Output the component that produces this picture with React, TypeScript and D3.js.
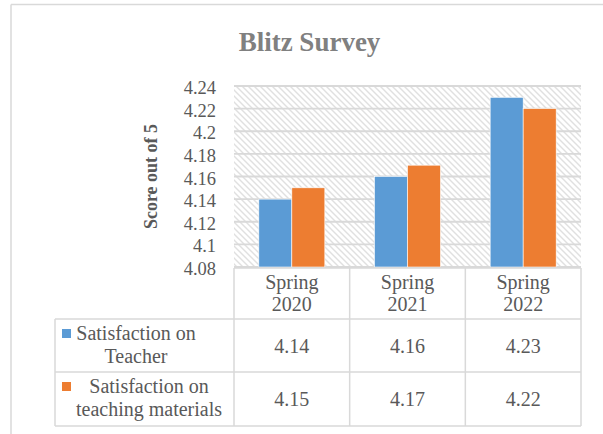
import React from "react";
import * as d3 from "d3";

// -- DATA --
const categories = ["Spring 2020", "Spring 2021", "Spring 2022"];
const seriesNames = ["Satisfaction on Teacher", "Satisfaction on teaching materials"];
const teacherScores = [4.14, 4.16, 4.23];
const materialScores = [4.15, 4.17, 4.22];
const yTicks = [4.08, 4.1, 4.12, 4.14, 4.16, 4.18, 4.2, 4.22, 4.24];
const legendLines = [["Satisfaction on", "Teacher"], ["Satisfaction on", "teaching materials"]];

const colors = ["#5B9BD5", "#ED7D31"];
const font = "'Liberation Serif', 'Times New Roman', serif";
const textGray = "#595959";
const lineGray = "#d9d9d9";

const App = () => {
  const width = 603;
  const height = 434;
  const plot = { left: 234, right: 581, top: 86, bottom: 267 };
  const table = { left: 55, headTop: 268, row1: 319, row2: 372, bottom: 426 };

  const x = d3.scaleBand().domain(categories).range([plot.left, plot.right]);
  const y = d3.scaleLinear().domain([4.08, 4.24]).range([plot.bottom, plot.top]);
  const barW = 33;
  const xSub = d3
    .scaleBand()
    .domain(seriesNames)
    .range([x.bandwidth() / 2 - barW, x.bandwidth() / 2 + barW]);

  const series = [teacherScores, materialScores];
  const colEdges = [...categories.map((c) => x(c) as number), plot.right];
  const legendCenters = [136, 149];
  const rowTops = [table.row1, table.row2];

  return (
    <svg
      width={width}
      height={height}
      style={{ position: "absolute", left: 0, top: 0, background: "#fff" }}
    >
      <defs>
        <pattern id="hatch" width="6" height="6" patternUnits="userSpaceOnUse">
          <rect width="6" height="6" fill="#fff" />
          <path d="M-1,-1 L7,7 M-1,5 L1,7 M5,-1 L7,1" stroke="#e0e0e0" strokeWidth="1.4" />
        </pattern>
      </defs>

      {/* chart border */}
      <line x1={11} x2={width} y1={4.5} y2={4.5} stroke={lineGray} strokeWidth={1.5} />
      <line x1={11} x2={11} y1={4.5} y2={height} stroke={lineGray} strokeWidth={1.5} />

      {/* title */}
      <text
        x={309.5}
        y={50.5}
        textAnchor="middle"
        fontFamily={font}
        fontWeight="bold"
        fontSize={27}
        fill="#808080"
      >
        Blitz Survey
      </text>

      {/* plot background */}
      <rect
        x={plot.left}
        y={plot.top}
        width={plot.right - plot.left}
        height={plot.bottom - plot.top}
        fill="url(#hatch)"
      />

      {/* gridlines + ticks */}
      {yTicks.map((t) => (
        <g key={t}>
          <line
            x1={plot.left}
            x2={plot.right}
            y1={y(t)}
            y2={y(t)}
            stroke={lineGray}
            strokeWidth={1.8}
          />
          <text
            x={216}
            y={y(t) + 8}
            textAnchor="end"
            fontFamily={font}
            fontSize={18.5}
            fill={textGray}
          >
            {d3.format("")(+t.toFixed(2))}
          </text>
        </g>
      ))}

      {/* y-axis title */}
      <text
        transform={`translate(157, ${(plot.top + plot.bottom) / 2}) rotate(-90)`}
        textAnchor="middle"
        fontFamily={font}
        fontWeight="bold"
        fontSize={18}
        fill={textGray}
      >
        Score out of 5
      </text>

      {/* bars */}
      {series.map((vals, si) =>
        vals.map((v, ci) => (
          <rect
            key={`${si}-${ci}`}
            x={(x(categories[ci]) as number) + (xSub(seriesNames[si]) as number)}
            y={y(v)}
            width={xSub.bandwidth()}
            height={plot.bottom - y(v)}
            fill={colors[si]}
            stroke="#fff"
            strokeWidth={0.6}
          />
        ))
      )}

      {/* data table grid */}
      <g stroke={lineGray} strokeWidth={1.5}>
        <line x1={plot.left} x2={plot.right} y1={table.headTop} y2={table.headTop} />
        {[table.row1, table.row2, table.bottom].map((yy) => (
          <line key={yy} x1={table.left} x2={plot.right} y1={yy} y2={yy} />
        ))}
        {colEdges.map((cx) => (
          <line key={cx} x1={cx} x2={cx} y1={table.headTop} y2={table.bottom} />
        ))}
        <line x1={table.left} x2={table.left} y1={table.row1} y2={table.bottom} />
      </g>

      {/* header row */}
      {categories.map((c) => {
        const cx = (x(c) as number) + x.bandwidth() / 2;
        const [a, b] = c.split(" ");
        return (
          <text key={c} textAnchor="middle" fontFamily={font} fontSize={20} fill={textGray}>
            <tspan x={cx} y={289}>{a}</tspan>
            <tspan x={cx} y={311}>{b}</tspan>
          </text>
        );
      })}

      {/* value rows */}
      {series.map((vals, si) => (
        <g key={seriesNames[si]}>
          <rect x={62} y={rowTops[si] + 10} width={9} height={9} fill={colors[si]} />
          <text textAnchor="middle" fontFamily={font} fontSize={20} fill={textGray}>
            <tspan x={legendCenters[si]} y={rowTops[si] + 21}>{legendLines[si][0]}</tspan>
            <tspan x={legendCenters[si]} y={rowTops[si] + 44}>{legendLines[si][1]}</tspan>
          </text>
          {vals.map((v, ci) => (
            <text
              key={ci}
              x={(x(categories[ci]) as number) + x.bandwidth() / 2}
              y={rowTops[si] + 34}
              textAnchor="middle"
              fontFamily={font}
              fontSize={20}
              fill={textGray}
            >
              {v.toFixed(2)}
            </text>
          ))}
        </g>
      ))}
    </svg>
  );
};

export default App;
